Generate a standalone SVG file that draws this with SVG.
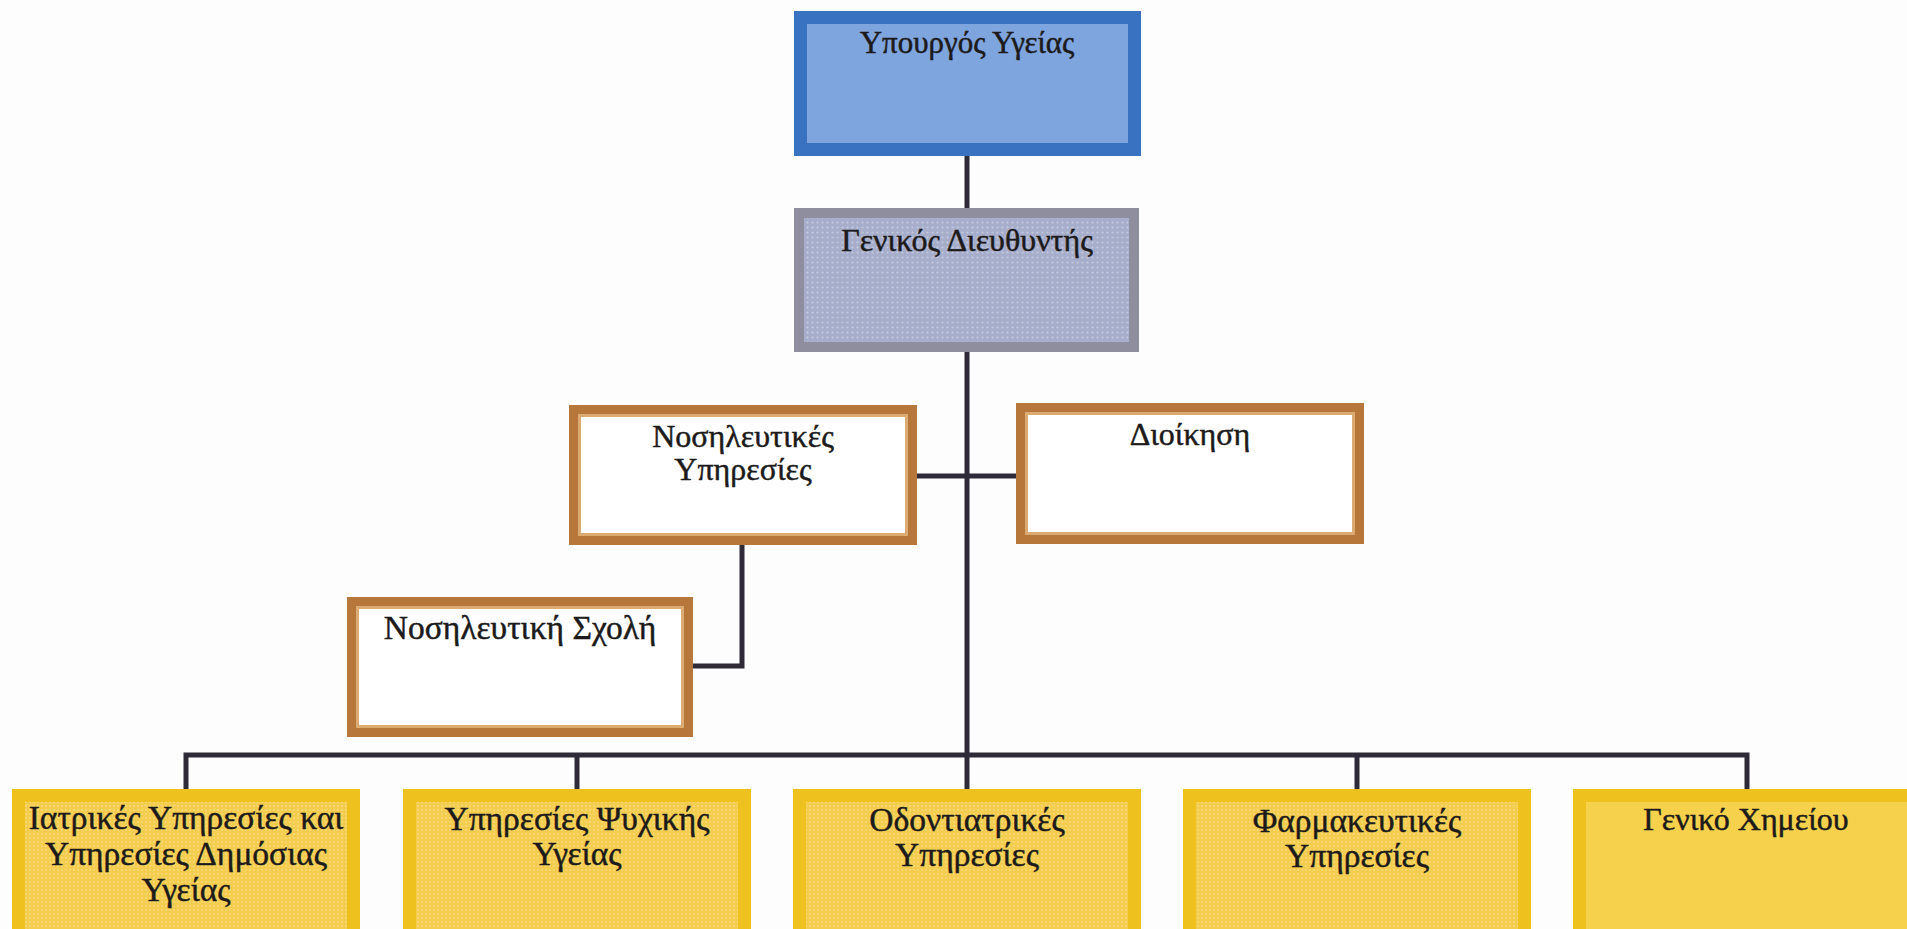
<svg xmlns="http://www.w3.org/2000/svg" width="1907" height="929" viewBox="0 0 1907 929">
  <defs>
    <pattern id="dotsGrey" width="5" height="5" patternUnits="userSpaceOnUse">
      <rect width="5" height="5" fill="#a7aecb"/>
      <circle cx="2.5" cy="2.5" r="1.1" fill="#c4c9df"/>
    </pattern>
    <pattern id="dotsGold" width="4" height="4" patternUnits="userSpaceOnUse">
      <rect width="4" height="4" fill="#f4cd4e"/>
      <circle cx="2" cy="2" r="0.9" fill="#f8dc7e"/>
    </pattern>
  </defs>
  <style>
    .lbl { font-family: "Liberation Serif", "DejaVu Serif", serif; font-size: 32px; fill: #1c1a1a; stroke: #1c1a1a; stroke-width: 0.45; text-anchor: middle; }
    .big { font-size: 33.5px; }
    .top { font-size: 31px; }
    .blue { fill: #7fa5de; stroke: #3a72c2; stroke-width: 13; }
    .grey { fill: url(#dotsGrey); stroke: #8e8e9f; stroke-width: 10; }
    .brown { fill: #ffffff; stroke: #b8773a; stroke-width: 12; }
    .brownIn { fill: none; stroke: #dcab72; stroke-width: 3; }
    .gold { fill: url(#dotsGold); stroke: #efc11f; stroke-width: 13; }
    .goldPlain { fill: #f6d14c; stroke: #efc11f; stroke-width: 13; }
    .wire { fill: none; stroke: #2e2a38; stroke-width: 5; stroke-linecap: butt; }
  </style>

  <rect width="1907" height="929" fill="#fdfdfd"/>

  <g id="connectors">
    <line class="wire" x1="967" y1="156" x2="967" y2="208"/>
    <line class="wire" x1="967" y1="352" x2="967" y2="757"/>
    <line class="wire" x1="917" y1="476" x2="1016" y2="476"/>
    <polyline class="wire" points="742,545 742,666 693,666"/>
    <polyline class="wire" points="186,789 186,755 1747,755 1747,789"/>
    <line class="wire" x1="577" y1="755" x2="577" y2="789"/>
    <line class="wire" x1="967" y1="755" x2="967" y2="789"/>
    <line class="wire" x1="1357" y1="755" x2="1357" y2="789"/>
  </g>

  <g id="minister">
    <rect class="blue" x="800.5" y="17.5" width="334" height="132"/>
    <text class="lbl top" x="967" y="53">Υπουργός Υγείας</text>
  </g>

  <g id="director-general">
    <rect class="grey" x="799" y="213" width="335" height="134"/>
    <text class="lbl" x="967" y="251">Γενικός Διευθυντής</text>
  </g>

  <g id="nursing-services">
    <rect class="brown" x="575" y="411" width="336" height="128"/>
    <rect class="brownIn" x="579.5" y="415.5" width="327" height="119"/>
    <text class="lbl" x="743" y="447">Νοσηλευτικές</text>
    <text class="lbl" x="743" y="480">Υπηρεσίες</text>
  </g>

  <g id="administration">
    <rect class="brown" x="1022" y="409" width="336" height="129"/>
    <rect class="brownIn" x="1026.5" y="413.5" width="327" height="120"/>
    <text class="lbl" x="1190" y="445">Διοίκηση</text>
  </g>

  <g id="nursing-school">
    <rect class="brown" x="353" y="603" width="334" height="128"/>
    <rect class="brownIn" x="357.5" y="607.5" width="325" height="119"/>
    <text class="lbl big" x="520" y="639">Νοσηλευτική Σχολή</text>
  </g>

  <g id="medical-services">
    <rect class="gold" x="18.5" y="795.5" width="335" height="145"/>
    <text class="lbl big" x="186" y="829">Ιατρικές Υπηρεσίες και</text>
    <text class="lbl big" x="186" y="865">Υπηρεσίες Δημόσιας</text>
    <text class="lbl big" x="186" y="901">Υγείας</text>
  </g>

  <g id="mental-health">
    <rect class="gold" x="409.5" y="795.5" width="335" height="145"/>
    <text class="lbl big" x="577" y="830">Υπηρεσίες Ψυχικής</text>
    <text class="lbl big" x="577" y="865">Υγείας</text>
  </g>

  <g id="dental-services">
    <rect class="gold" x="799.5" y="795.5" width="335" height="145"/>
    <text class="lbl big" x="967" y="831">Οδοντιατρικές</text>
    <text class="lbl big" x="967" y="866">Υπηρεσίες</text>
  </g>

  <g id="pharmaceutical-services">
    <rect class="gold" x="1189.5" y="795.5" width="335" height="145"/>
    <text class="lbl big" x="1357" y="832">Φαρμακευτικές</text>
    <text class="lbl big" x="1357" y="867">Υπηρεσίες</text>
  </g>

  <g id="general-chemistry">
    <rect class="goldPlain" x="1579.5" y="795.5" width="345" height="145"/>
    <text class="lbl" x="1746" y="830">Γενικό Χημείου</text>
  </g>
</svg>
